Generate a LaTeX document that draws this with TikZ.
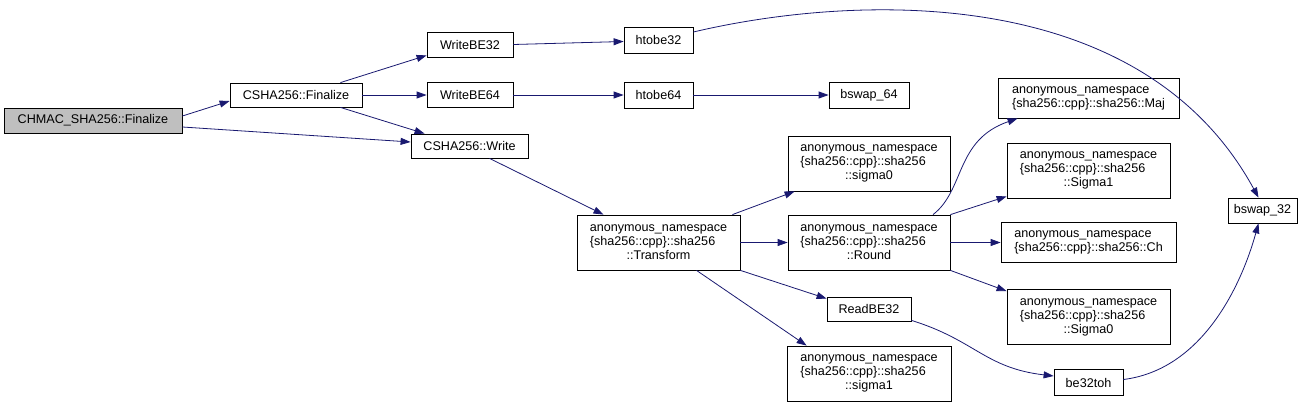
\documentclass[tikz,border=0pt]{standalone}
\usepackage{fontspec}
\setmainfont{Liberation Sans}
\usetikzlibrary{arrows.meta}
\definecolor{edgeblue}{HTML}{191970}
\definecolor{rootgray}{HTML}{BFBFBF}
\newlength\nsw
\newcommand\nslab[1]{anonymous\_namespace\\\settowidth\nsw{anonymous\_namespace}\makebox[\nsw][l]{\{sha256::cpp\}::sha256}\\#1}
\begin{document}
\begin{tikzpicture}[x=1pt,y=-1pt,
  box/.style={draw=black,line width=0.8pt,fill=white,inner sep=0pt,align=center,
    font=\fontsize{12.6}{14}\selectfont},
  edge/.style={draw=edgeblue,line width=0.8pt,-{Triangle[length=10pt,width=7pt]}}]
\useasboundingbox (0,0) rectangle (1312,407);
% nodes
\node[box,fill=rootgray,minimum width=178pt,minimum height=25pt] (chmac) at (93,120.5) {CHMAC\_SHA256::Finalize};
\node[box,minimum width=132pt,minimum height=24pt] (fin) at (296,95) {CSHA256::Finalize};
\node[box,minimum width=86pt,minimum height=25pt] (wbe32) at (470,44.5) {WriteBE32};
\node[box,minimum width=86pt,minimum height=25pt] (wbe64) at (470,95) {WriteBE64};
\node[box,minimum width=69pt,minimum height=26pt] (htobe32) at (658.5,40) {htobe32};
\node[box,minimum width=69pt,minimum height=26pt] (htobe64) at (658.5,95) {htobe64};
\node[box,minimum width=117pt,minimum height=24pt] (write) at (469.5,146) {CSHA256::Write};
\node[box,minimum width=163pt,minimum height=55pt] (transform) at (658.5,242.5) {\nslab{::Transform}};
\node[box,minimum width=162pt,minimum height=55pt] (sigmaz) at (869,163.5) {\nslab{::sigma0}};
\node[box,minimum width=162pt,minimum height=55pt] (round) at (869,242.5) {\nslab{::Round}};
\node[box,minimum width=164pt,minimum height=55pt] (sigmao) at (869,373.5) {\nslab{::sigma1}};
\node[box,minimum width=84pt,minimum height=24pt] (readbe32) at (869,309) {ReadBE32};
\node[box,minimum width=80pt,minimum height=26pt] (bswap64) at (869,95) {bswap\_64};
\node[box,align=left,minimum width=181pt,minimum height=40pt] (maj) at (1088.5,98) {anonymous\_namespace\\\{sha256::cpp\}::sha256::Maj};
\node[box,minimum width=163pt,minimum height=55pt] (bigsigmao) at (1088.5,170.5) {\nslab{::Sigma1}};
\node[box,align=left,minimum width=175pt,minimum height=40pt] (ch) at (1088.5,242.5) {anonymous\_namespace\\\{sha256::cpp\}::sha256::Ch};
\node[box,minimum width=163pt,minimum height=55pt] (bigsigmaz) at (1088.5,317) {\nslab{::Sigma0}};
\node[box,minimum width=69pt,minimum height=26pt] (be32toh) at (1088.5,382.5) {be32toh};
\node[box,minimum width=69pt,minimum height=25pt] (bswap32) at (1262.5,210.5) {bswap\_32};
% edges
\draw[edge] ([yshift=4.5pt]chmac.east) -- ([yshift=-6pt]fin.west);
\draw[edge] ([yshift=-6.5pt]chmac.east) -- ([yshift=4pt]write.west);
\draw[edge] ([xshift=-22pt]fin.north east) -- ([yshift=2pt]wbe32.south west);
\draw[edge] (fin.east) -- (wbe64.west);
\draw[edge] ([xshift=-22pt]fin.south east) -- ([xshift=14pt]write.north west);
\draw[edge] (wbe32.east) -- ([yshift=-1.5pt]htobe32.west);
\draw[edge] (wbe64.east) -- (htobe64.west);
\draw[edge] (htobe64.east) -- (bswap64.west);
\draw[edge] ([yshift=8pt]htobe32.east) .. controls (850,-5) and (1140,-20) .. ([xshift=-4pt]bswap32.north);
\draw[edge] ([xshift=20pt]write.south) -- ([xshift=-55pt]transform.north);
\draw[edge] ([xshift=-8pt]transform.north east) -- ([xshift=7pt]sigmaz.south west);
\draw[edge] (transform.east) -- (round.west);
\draw[edge] (transform.south east) -- ([yshift=-2pt]readbe32.north west);
\draw[edge] ([xshift=38pt]transform.south) -- ([xshift=20pt]sigmao.north west);
\draw[edge] ([xshift=64pt]round.north) .. controls (965,190) and (955,140) .. ([xshift=20pt]maj.south west);
\draw[edge] (round.north east) -- ([yshift=2pt]bigsigmao.south west);
\draw[edge] (round.east) -- (ch.west);
\draw[edge] (round.south east) -- ([yshift=-2pt]bigsigmaz.north west);
\draw[edge] ([yshift=1pt]readbe32.south east) .. controls (975,340) and (985,368) .. ([yshift=6.5pt]be32toh.west);
\draw[edge] ([yshift=3pt]be32toh.east) .. controls (1200,370) and (1240,290) .. ([xshift=-4pt]bswap32.south);
\end{tikzpicture}
\end{document}
